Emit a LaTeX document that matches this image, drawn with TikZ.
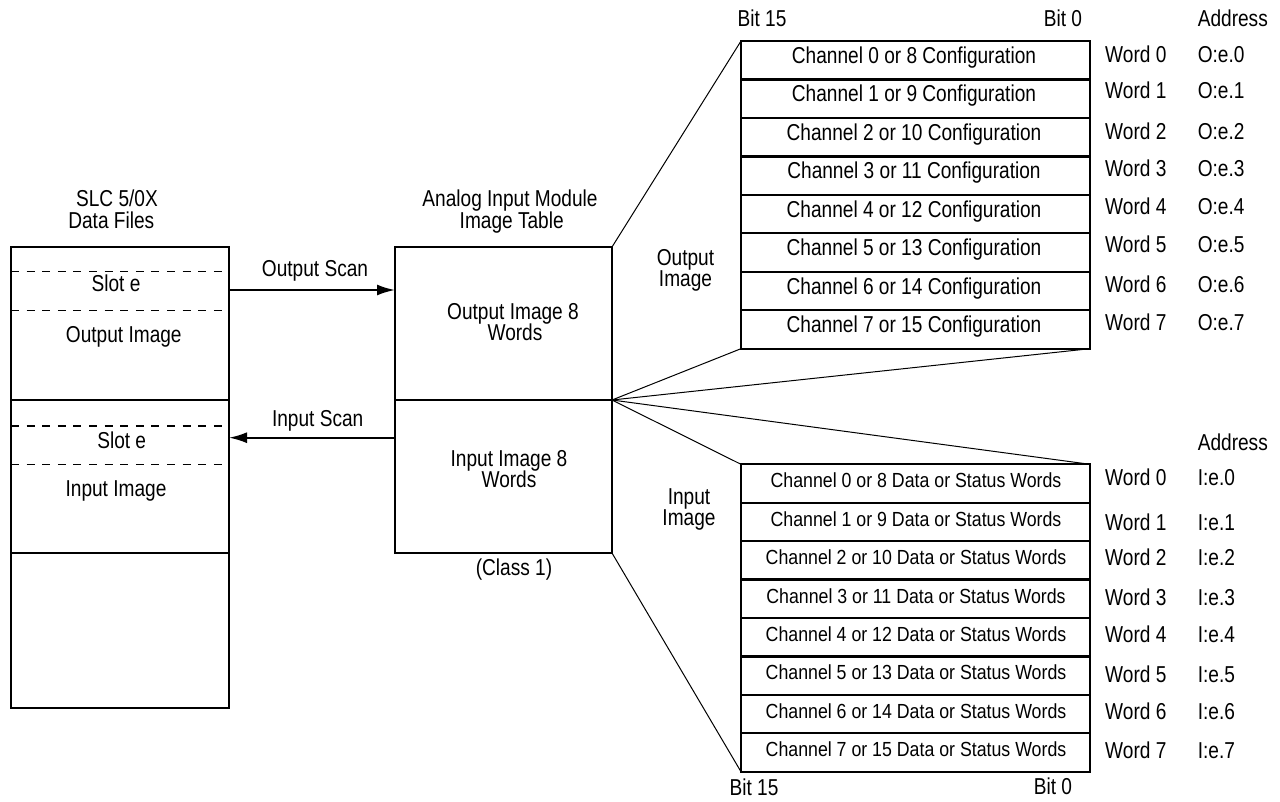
\documentclass[tikz,border=0pt]{standalone}
\usepackage{fontspec}
\setmainfont{Liberation Sans}[FakeStretch=0.83]
\newfontfamily\rowfont{Liberation Sans}[FakeStretch=0.87]
\usetikzlibrary{arrows.meta}
\begin{document}
\begin{tikzpicture}[x=1pt,y=-1pt,
  lbl/.style={font=\fontsize{23}{23}\selectfont, inner sep=0pt, anchor=base},
  lblw/.style={lbl, anchor=base west},
  small/.style={font=\rowfont\fontsize{20.4}{20.4}\selectfont, inner sep=0pt, anchor=base},
  box/.style={draw, line width=2.3pt, inner sep=0pt, outer sep=0pt},
  fan/.style={line width=1pt},
  dline/.style={line width=1.2pt, dash pattern=on 8pt off 7.6pt},
  arr/.style={line width=2pt, -{Latex[length=18pt,width=11pt]}}]
\useasboundingbox (0,0) rectangle (1280,801);

% left data-file column
\node[box, minimum width=218pt, minimum height=153pt] (L1) at (120,323.5) {};
\node[box, minimum width=218pt, minimum height=153pt] (L2) at (120,476.5) {};
\node[box, minimum width=218pt, minimum height=155pt] (L3) at (120,630.5) {};
\draw[dline] ([yshift=-24.7pt]L1.north west) -- ([yshift=-24.7pt]L1.north east);
\draw[dline] ([yshift=-63.7pt]L1.north west) -- ([yshift=-63.7pt]L1.north east);
\draw[dline] ([yshift=-26pt]L2.north west) -- ([yshift=-26pt]L2.north east);
\draw[dline] ([yshift=-64.3pt]L2.north west) -- ([yshift=-64.3pt]L2.north east);

% middle image table
\node[box, minimum width=217pt, minimum height=153pt] (M1) at (503.5,323.5) {};
\node[box, minimum width=217pt, minimum height=153pt] (M2) at (503.5,476.5) {};

% output and input tables
\foreach \i in {0,...,7}{
  \node[box, minimum width=349pt, minimum height=38.46pt] (O\i) at (915.5,{41+38.46*(\i+0.5)}) {};
  \node[box, minimum width=349pt, minimum height=38.43pt] (I\i) at (915.5,{464.3+38.43*(\i+0.5)}) {};
}

% fan connectors
\draw[fan] (M1.north east) -- (O0.north west);
\draw[fan] (M1.south east) -- (O7.south west);
\draw[fan] (M1.south east) -- (O7.south east);
\draw[fan] (M2.north east) -- (I0.north west);
\draw[fan] (M2.north east) -- (I0.north east);
\draw[fan] (M2.south east) -- (I7.south west);

% scan arrows
\draw[arr] ([yshift=-43pt]L1.north east) -- ([yshift=-43pt]M1.north west);
\draw[arr] ([yshift=-37.7pt]M2.north west) -- ([yshift=-37.7pt]L2.north east);

% left labels
\node[lbl] (slc1) at (117,206.7) {SLC 5/0X};
\node[lbl] (slc2) at (111.3,228.3) {Data Files};
\node[lbl] (slotA) at (116,291.7) {Slot e};
\node[lbl] (outimgL) at (123.8,342.7) {Output Image};
\node[lbl] (slotB) at (121.7,448.3) {Slot e};
\node[lbl] (inimgL) at (116,496.7) {Input Image};
\node[lbl] (oscan) at (315,276.7) {Output Scan};
\node[lbl] (iscan) at (317.7,426.7) {Input Scan};

% middle labels
\node[lbl] (aim1) at (510,206.7) {Analog Input Module};
\node[lbl] (aim2) at (511.7,228.3) {Image Table};
\node[lbl] (oi1) at (513,319) {Output Image 8};
\node[lbl] (oi2) at (515,340.7) {Words};
\node[lbl] (ii1) at (509,466) {Input Image 8};
\node[lbl] (ii2) at (509,487.3) {Words};
\node[lbl] (cls) at (514,575) {(Class 1)};
\node[lbl] (oside1) at (685.5,265) {Output};
\node[lbl] (oside2) at (685.5,286) {Image};
\node[lbl] (iside1) at (689,504) {Input};
\node[lbl] (iside2) at (689,525) {Image};

% headers
\node[lbl] (ob15) at (762,26.7) {Bit 15};
\node[lbl] (ob0) at (1063,26.7) {Bit 0};
\node[lblw] (oaddr) at (1197.6,26.7) {Address};
\node[lblw] (iaddr) at (1197.6,450.7) {Address};
\node[lbl] (ib15) at (754,795) {Bit 15};
\node[lbl] (ib0) at (1053,794) {Bit 0};

% output rows text
\foreach \i/\t in {0/{Channel 0 or 8 Configuration},1/{Channel 1 or 9 Configuration},
  2/{Channel 2 or 10 Configuration},3/{Channel 3 or 11 Configuration},
  4/{Channel 4 or 12 Configuration},5/{Channel 5 or 13 Configuration},
  6/{Channel 6 or 14 Configuration},7/{Channel 7 or 15 Configuration}}{
  \node[lbl] (Ot\i) at (914,{41+38.46*\i+22.5}) {\t};
}
\foreach \i/\y in {0/62.7,1/98.3,2/139.3,3/176.7,4/214.3,5/252.3,6/292.7,7/330}{
  \node[lblw] (Ow\i) at (1105,\y) {Word \i};
  \node[lblw] (Oa\i) at (1197.6,\y) {O:e.\i};
}

% input rows text
\foreach \i/\t in {0/{Channel 0 or 8 Data or Status Words},1/{Channel 1 or 9 Data or Status Words},
  2/{Channel 2 or 10 Data or Status Words},3/{Channel 3 or 11 Data or Status Words},
  4/{Channel 4 or 12 Data or Status Words},5/{Channel 5 or 13 Data or Status Words},
  6/{Channel 6 or 14 Data or Status Words},7/{Channel 7 or 15 Data or Status Words}}{
  \node[small] (It\i) at (916,{464.3+38.43*\i+23.5}) {\t};
}
\foreach \i/\y in {0/485,1/530,2/565,3/605,4/642.3,5/682.7,6/719.3,7/758.3}{
  \node[lblw] (Iw\i) at (1105,\y) {Word \i};
  \node[lblw] (Ia\i) at (1197.6,\y) {I:e.\i};
}
\end{tikzpicture}
\end{document}
